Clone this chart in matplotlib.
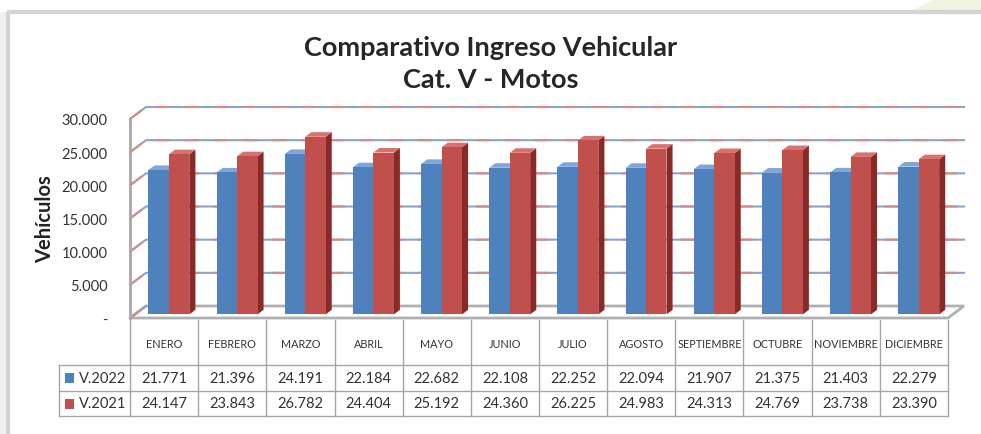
# Comparativo Ingreso Vehicular - Cat. V - Motos (3D-look clustered columns + data table)
import matplotlib
matplotlib.use("Agg")
import matplotlib.pyplot as plt
from matplotlib.patches import Polygon, Rectangle

months = ["ENERO", "FEBRERO", "MARZO", "ABRIL", "MAYO", "JUNIO", "JULIO",
          "AGOSTO", "SEPTIEMBRE", "OCTUBRE", "NOVIEMBRE", "DICIEMBRE"]
v2022 = [21771, 21396, 24191, 22184, 22682, 22108, 22252, 22094, 21907, 21375, 21403, 22279]
v2021 = [24147, 23843, 26782, 24404, 25192, 24360, 26225, 24983, 24313, 24769, 23738, 23390]
series_names = ["V.2022", "V.2021"]
yticks = [0, 5000, 10000, 15000, 20000, 25000, 30000]
ytick_labels = ["-", "5.000", "10.000", "15.000", "20.000", "25.000", "30.000"]

W, H = 981, 435
fig = plt.figure(figsize=(W / 100, H / 100), dpi=100)
fig.patch.set_facecolor("white")


def px_box(x0, y0, x1, y1):
    # pixel box (top-left origin) -> figure fraction [left, bottom, width, height]
    return [x0 / W, 1 - y1 / H, (x1 - x0) / W, (y1 - y0) / H]


# background card frame
bg = fig.add_axes([0, 0, 1, 1], zorder=-5)
bg.set_xlim(0, W)
bg.set_ylim(H, 0)
bg.axis("off")
bg.add_patch(Rectangle((0, 13), 7, H, facecolor="#f1f1f1", edgecolor="none"))
bg.add_patch(Polygon([(908, 13), (936, 0), (W, 0), (W, 13)], facecolor="#eef3e4", edgecolor="none"))
bg.plot([7, W], [13, 13], color="#d4d4d4", lw=3, solid_capstyle="butt")
bg.plot([8, 8], [13, H], color="#d4d4d4", lw=3, solid_capstyle="butt")

# title
fig.text(0.5, 1 - 48 / H, "Comparativo Ingreso Vehicular", ha="center", va="center",
         fontsize=19.5, fontweight="bold", family="Lato", color="#262626")
fig.text(0.5, 1 - 80 / H, "Cat. V - Motos", ha="center", va="center",
         fontsize=19.5, fontweight="bold", family="Lato", color="#262626")

# main plotting area = front plane of the 3D box
ax = fig.add_axes(px_box(130, 120, 948, 319))
n = len(months)
ax.set_xlim(0, n)
ax.set_ylim(0, 30000)
for s in ax.spines.values():
    s.set_visible(False)
ax.set_xticks([])
ax.set_yticks(yticks)
ax.set_yticklabels(ytick_labels, fontsize=10.5, family="Lato", color="#333333")
ax.tick_params(axis="y", length=0, pad=16)
ax.set_ylabel("Vehículos", fontsize=14.5, fontweight="bold", family="Lato", labelpad=5,
              color="#222222")

# depth of the box in data units (16 px right, 12 px up)
dx = 16 / (818 / n)
dy = 12 * 30000 / 199

# floor
ax.add_patch(Polygon([(0, 0), (n, 0), (n + dx, dy), (dx, dy)], closed=True,
                     facecolor="white", edgecolor="#b0b0b0", lw=2, zorder=1, clip_on=False))

# gridlines on back wall and left wall (blue/red dashed look)
for v in yticks:
    xs = [0, dx, n + dx] if v > 0 else [0, dx]
    ys = [v, v + dy, v + dy] if v > 0 else [v, v + dy]
    ax.plot(xs, ys, color="#86a4d4", lw=1.5, zorder=2, clip_on=False)
    ax.plot(xs, ys, color="#d98a84", lw=1.5, dashes=(7, 7), zorder=2, clip_on=False)
ax.plot([0, 0], [0, 30000], color="#a8a8a8", lw=2, zorder=3, clip_on=False)

# 3D bars
colors = [("#4f81bd", "#7ea6dc", "#345f95"), ("#c0504d", "#d9726e", "#8a2a28")]
f0, f1 = 0.3, 0.68
bw = 0.3
for i in range(n):
    for k, vals in enumerate([v2022, v2021]):
        v = vals[i]
        front, top, side = colors[k]
        x0 = i + 0.2 + k * bw
        x1 = x0 + bw
        ox, oy = f0 * dx, f0 * dy
        ox2, oy2 = f1 * dx, f1 * dy
        ax.add_patch(Polygon([(x1 + ox, oy), (x1 + ox2, oy2), (x1 + ox2, v + oy2), (x1 + ox, v + oy)],
                             facecolor=side, edgecolor="none", zorder=5, clip_on=False))
        ax.add_patch(Polygon([(x0 + ox, v + oy), (x1 + ox, v + oy), (x1 + ox2, v + oy2), (x0 + ox2, v + oy2)],
                             facecolor=top, edgecolor="none", zorder=5, clip_on=False))
        ax.add_patch(Polygon([(x0 + ox, oy), (x1 + ox, oy), (x1 + ox, v + oy), (x0 + ox, v + oy)],
                             facecolor=front, edgecolor="none", zorder=5, clip_on=False))

# data table under the chart
tax = fig.add_axes(px_box(130, 321, 948, 417))
tax.set_xlim(0, n)
tax.set_ylim(96, 0)
tax.axis("off")
rows = [0, 45, 71, 96]
legend_x = -71 / (818 / n)
lc = "#a6a6a6"
for i in range(n + 1):
    tax.plot([i, i], [rows[0], rows[3]], color=lc, lw=1, clip_on=False)
tax.plot([legend_x, legend_x], [rows[1], rows[3]], color=lc, lw=1, clip_on=False)
for r in rows[1:]:
    tax.plot([legend_x, n], [r, r], color=lc, lw=1, clip_on=False)

for i, m in enumerate(months):
    tax.text(i + 0.5, (rows[0] + rows[1]) / 2 + 1, m, ha="center", va="center", fontsize=7.8,
             family="Lato", color="#333333")
for k, vals in enumerate([v2022, v2021]):
    yc = (rows[k + 1] + rows[k + 2]) / 2
    for i, v in enumerate(vals):
        tax.text(i + 0.5, yc, f"{v:,}".replace(",", "."), ha="center", va="center",
                 fontsize=10.5, family="Lato", color="#333333")
    tax.add_patch(Rectangle((legend_x + 0.085, yc - 5), 0.14, 10, facecolor=colors[k][0],
                            edgecolor="none", clip_on=False))
    tax.text(legend_x + 0.29, yc, series_names[k], ha="left", va="center",
             fontsize=10.5, family="Lato", color="#333333")

fig.savefig("out.png", dpi=100)
